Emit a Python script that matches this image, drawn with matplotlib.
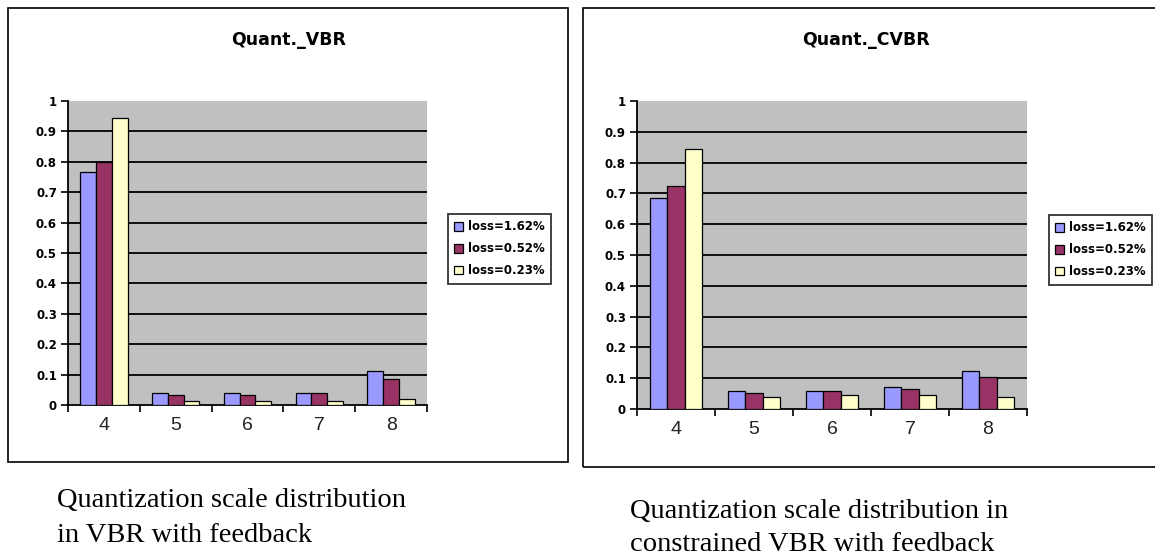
import numpy as np
import matplotlib; matplotlib.use("Agg")
import matplotlib.pyplot as plt
from matplotlib.patches import Rectangle

CATS = ["4", "5", "6", "7", "8"]
LOSS = ["loss=1.62%", "loss=0.52%", "loss=0.23%"]
VBR_162 = [0.765, 0.040, 0.040, 0.040, 0.112]
VBR_052 = [0.800, 0.033, 0.033, 0.040, 0.085]
VBR_023 = [0.945, 0.012, 0.012, 0.012, 0.020]
CVBR_162 = [0.685, 0.060, 0.060, 0.072, 0.123]
CVBR_052 = [0.725, 0.052, 0.060, 0.065, 0.105]
CVBR_023 = [0.845, 0.040, 0.047, 0.047, 0.040]
COLORS = ["#9999ff", "#993366", "#ffffcc"]
W, H = 1155, 558

fig = plt.figure(figsize=(W / 100, H / 100), dpi=100)
fig.patch.set_facecolor("white")

def px(x0, y0, x1, y1):
    # pixel box (top-left origin) -> figure fraction rect
    return [x0 / W, (H - y1) / H, (x1 - x0) / W, (y1 - y0) / H]

def box(x0, y0, x1, y1):
    r = px(x0, y0, x1, y1)
    fig.patches.append(Rectangle((r[0], r[1]), r[2], r[3], transform=fig.transFigure,
                                 fill=False, ec="black", lw=1.2))

def panel(rect, series, title, title_xy, leg_xy):
    ax = fig.add_axes(rect)
    ax.set_facecolor("#c0c0c0")
    x = np.arange(len(CATS))
    bw = 0.22
    for i, (vals, c, lab) in enumerate(zip(series, COLORS, LOSS)):
        ax.bar(x + (i - 1) * bw, vals, bw, color=c, edgecolor="black", lw=0.9, label=lab, zorder=3)
    ax.set_xlim(-0.5, len(CATS) - 0.5)
    ax.set_ylim(0, 1)
    ax.set_yticks(np.arange(0, 1.01, 0.1))
    ax.set_yticklabels(["0", "0.1", "0.2", "0.3", "0.4", "0.5", "0.6", "0.7", "0.8", "0.9", "1"],
                       fontsize=8.5, fontweight="bold", family="DejaVu Sans")
    for y in np.arange(0.1, 0.95, 0.1):
        ax.axhline(y, color="black", lw=1.3, zorder=2)
    ax.set_xticks(x)
    ax.set_xticklabels(CATS, fontsize=14, family="Liberation Sans", color="#222222")
    ax.tick_params(axis="x", length=0, pad=9)
    ax.set_xticks(np.arange(-0.5, len(CATS), 1.0), minor=True)
    ax.tick_params(axis="x", which="minor", length=5, width=1.2, direction="out")
    ax.tick_params(axis="y", length=5, width=1.2, direction="out", pad=3)
    for s in ["top", "right"]:
        ax.spines[s].set_visible(False)
    for s in ["left", "bottom"]:
        ax.spines[s].set_linewidth(1.3)
    fig.text(title_xy[0] / W, 1 - title_xy[1] / H, title, ha="center", va="center",
             fontsize=12.5, fontweight="bold", family="DejaVu Sans")
    leg = ax.legend(loc="upper left", bbox_to_anchor=(leg_xy[0] / W, 1 - leg_xy[1] / H),
                    bbox_transform=fig.transFigure, frameon=True, fancybox=False,
                    handlelength=0.75, handleheight=0.75, handletextpad=0.4, borderpad=0.55,
                    borderaxespad=0, labelspacing=0.75,
                    prop={"family": "DejaVu Sans", "size": 8.5, "weight": "bold"})
    leg.get_frame().set_edgecolor("black")
    leg.get_frame().set_linewidth(1.3)
    return ax

box(8, 8, 568, 462)
box(583, 8, 1160, 467)
panel(px(68, 101, 427, 405), [VBR_162, VBR_052, VBR_023], "Quant._VBR", (289, 40), (448, 214))
panel(px(637, 101, 1027, 409), [CVBR_162, CVBR_052, CVBR_023], "Quant._CVBR", (866, 40), (1049, 215))

fig.text(57 / W, 1 - 518 / H, "Quantization scale distribution\nin VBR with feedback",
         ha="left", va="center", fontsize=20.5, family="Liberation Serif", linespacing=1.5)
fig.text(630 / W, 1 - 528 / H, "Quantization scale distribution in\nconstrained VBR with feedback",
         ha="left", va="center", fontsize=20.5, family="Liberation Serif", linespacing=1.45)

fig.savefig("out.png", dpi=100)
